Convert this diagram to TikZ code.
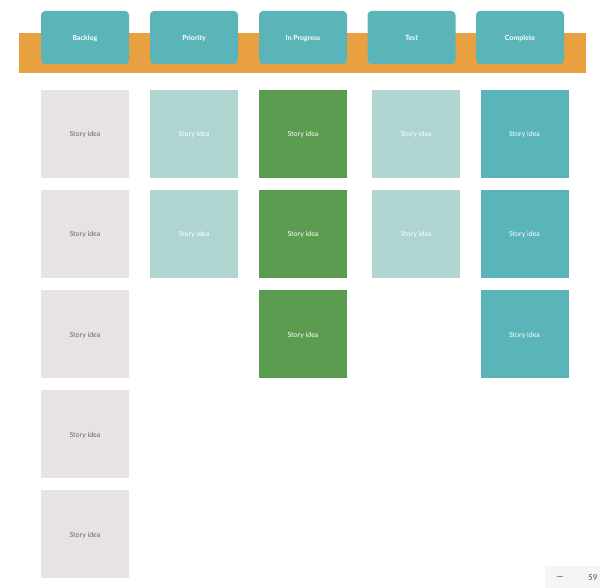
\documentclass[tikz,border=0pt]{standalone}
\usepackage{fontspec}
\setmainfont{Lato}
\usepackage{xcolor}
\usepackage{tikz}
\usetikzlibrary{positioning}

\definecolor{bandorange}{HTML}{E8A040}
\definecolor{headteal}{HTML}{5BB5B8}
\definecolor{backlogcard}{HTML}{E7E2E5}
\definecolor{palecard}{HTML}{B0D5D1}
\definecolor{greencard}{HTML}{5C9C51}
\definecolor{donecard}{HTML}{5BB5B8}

\begin{document}
\begin{tikzpicture}[x=1pt, y=-1pt]
  % Styles
  \tikzstyle{header} = [rectangle, rounded corners=4pt, fill=headteal, draw=none, minimum width=88pt, minimum height=53pt, inner sep=0pt, text height=6pt, text depth=0pt, text=white, font=\fontsize{7}{8}\selectfont\bfseries]
  \tikzstyle{card} = [rectangle, draw=none, minimum width=88pt, minimum height=88pt, inner sep=0pt, text height=6pt, text depth=0pt, text=white, font=\fontsize{7}{8}\selectfont]
  \tikzstyle{backlog} = [card, fill=backlogcard, text=black!60]
  \tikzstyle{priority} = [card, fill=palecard]
  \tikzstyle{progress} = [card, fill=greencard]
  \tikzstyle{testing} = [card, fill=palecard]
  \tikzstyle{complete} = [card, fill=donecard]

  \useasboundingbox (0,0) rectangle (600,588);

  % Orange band behind the headers
  \node[rectangle, fill=bandorange, minimum width=567pt, minimum height=40pt, inner sep=0pt] (band) at (302.5, 53) {};

  % Column headers
  \node[header] (hbacklog) at (85, 37.5) {Backlog};
  \node[header] (hpriority) at (194, 37.5) {Priority};
  \node[header] (hprogress) at (303, 37.5) {In Progress};
  \node[header] (htest) at (411.5, 37.5) {Test};
  \node[header] (hcomplete) at (520, 37.5) {Complete};

  % Backlog
  \node[backlog] (b1) at (85, 134) {Story idea};
  \node[backlog] (b2) at (85, 234) {Story idea};
  \node[backlog] (b3) at (85, 334) {Story idea};
  \node[backlog] (b4) at (85, 434) {Story idea};
  \node[backlog] (b5) at (85, 534) {Story idea};

  % Priority
  \node[priority] (p1) at (194, 134) {Story idea};
  \node[priority] (p2) at (194, 234) {Story idea};

  % In Progress
  \node[progress] (g1) at (303, 134) {Story idea};
  \node[progress] (g2) at (303, 234) {Story idea};
  \node[progress] (g3) at (303, 334) {Story idea};

  % Test
  \node[testing] (t1) at (416, 134) {Story idea};
  \node[testing] (t2) at (416, 234) {Story idea};

  % Complete
  \node[complete] (c1) at (524.5, 134) {Story idea};
  \node[complete] (c2) at (524.5, 234) {Story idea};
  \node[complete] (c3) at (524.5, 334) {Story idea};

  % Zoom widget in the corner
  \fill[black!4] (545, 566) rectangle (600, 588);
  \node[font=\fontsize{9}{10}\selectfont, text=black!70] (zminus) at (560, 578) {—};
  \node[font=\fontsize{8}{9}\selectfont, text=black!70, anchor=west, inner sep=0pt] (zvalue) at (588, 578) {59};
\end{tikzpicture}
\end{document}
